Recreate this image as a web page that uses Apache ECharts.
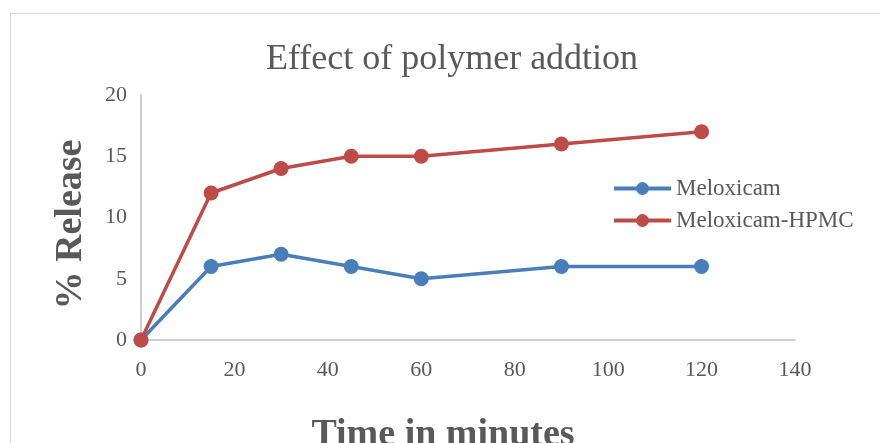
<!DOCTYPE html>
<html>
<head>
<meta charset="utf-8">
<script src="https://cdn.jsdelivr.net/npm/echarts@6/dist/echarts.min.js"></script>
<style>
  html,body{margin:0;padding:0;background:#fff;overflow:hidden}
  #frame{position:absolute;left:10px;top:13px;width:900px;height:460px;border:1px solid #d9d9d9;box-sizing:border-box}
  #main{position:absolute;left:0;top:0;width:880px;height:443px}
</style>
</head>
<body>
<div id="frame"></div>
<div id="main"></div>
<script>
// time points (minutes)
const minutes = [0, 15, 30, 45, 60, 90, 120]
const meloxicam = [0, 6, 7, 6, 5, 6, 6]
const meloxicamHpmc = [0, 12, 14, 15, 15, 16, 17]
const seriesNames = ['Meloxicam', 'Meloxicam-HPMC']

const serif = '"Liberation Serif", "DejaVu Serif", serif'
const chart = echarts.init(document.getElementById('main'))

const pairs = vals => minutes.map((m, i) => [m, vals[i]])

chart.setOption({
  animation: false,
  backgroundColor: 'transparent',
  title: {
    text: 'Effect of polymer addtion',
    left: 447,
    top: 37,
    textAlign: 'center',
    textStyle: { fontFamily: serif, fontSize: 36, fontWeight: 'normal', color: '#595959' }
  },
  legend: {
    orient: 'vertical',
    left: 607,
    top: 172,
    itemWidth: 57,
    itemHeight: 16,
    itemGap: 9,
    lineStyle: { width: 4 },
    textStyle: { fontFamily: serif, fontSize: 23, color: '#595959' },
    data: seriesNames
  },
  grid: { left: 141, right: 85, top: 95, bottom: 103, outerBoundsMode: 'none' },
  xAxis: {
    type: 'value',
    min: 0, max: 140, interval: 20,
    name: 'Time in minutes',
    nameLocation: 'middle',
    nameGap: 76,
    nameTextStyle: { fontFamily: serif, fontSize: 38, fontWeight: 'bold', color: '#595959', padding: [0, 50, 0, 0] },
    axisLine: { lineStyle: { color: '#bfbfbf', width: 1.5 } },
    axisTick: { show: false },
    splitLine: { show: false },
    axisLabel: { fontFamily: serif, fontSize: 22, color: '#595959', margin: 19 }
  },
  yAxis: {
    type: 'value',
    min: 0, max: 20, interval: 5,
    name: '% Release',
    nameLocation: 'middle',
    nameGap: 51,
    nameTextStyle: { fontFamily: serif, fontSize: 38, fontWeight: 'bold', color: '#595959', padding: [0, 14, 0, 0] },
    axisLine: { show: true, lineStyle: { color: '#bfbfbf', width: 1.5 } },
    axisTick: { show: false },
    splitLine: { show: false },
    axisLabel: { fontFamily: serif, fontSize: 22, color: '#595959', margin: 14 }
  },
  series: [
    {
      name: seriesNames[0],
      type: 'line',
      data: pairs(meloxicam),
      symbol: 'circle',
      symbolSize: 15,
      lineStyle: { width: 3.5, color: '#4a7ebb' },
      itemStyle: { color: '#4a7ebb' }
    },
    {
      name: seriesNames[1],
      type: 'line',
      data: pairs(meloxicamHpmc),
      symbol: 'circle',
      symbolSize: 15,
      lineStyle: { width: 3.5, color: '#be4b48' },
      itemStyle: { color: '#be4b48' }
    }
  ]
})
</script>
</body>
</html>
